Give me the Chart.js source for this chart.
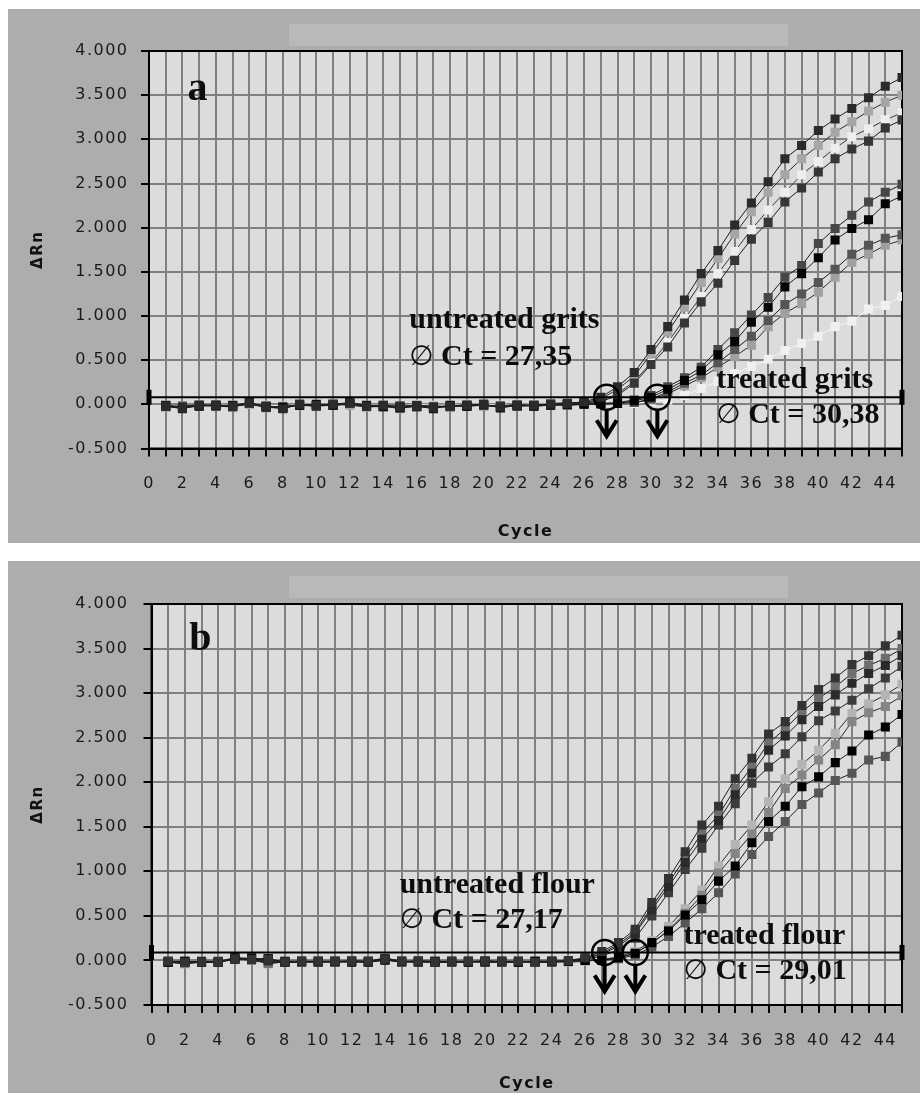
<!DOCTYPE html>
<html>
<head>
<meta charset="utf-8">
<title>Real-time PCR amplification plots</title>
<script src="https://cdn.jsdelivr.net/npm/chart.js@4/dist/chart.umd.min.js"></script>
<style>
  html, body { margin: 0; padding: 0; background: #ffffff; }
  body { width: 920px; height: 1093px; position: relative; overflow: hidden; }
  canvas { position: absolute; left: 8px; }
  #panelA { top: 9px; }
  #panelB { top: 561px; }
</style>
</head>
<body>
<canvas id="panelA" width="912" height="534"></canvas>
<canvas id="panelB" width="912" height="532"></canvas>
<script>
// PCR cycles 1..45
const cycles = [1,2,3,4,5,6,7,8,9,10,11,12,13,14,15,16,17,18,19,20,21,22,23,24,25,26,27,28,29,30,31,32,33,34,35,36,37,38,39,40,41,42,43,44,45];

// Y axis ticks (ΔRn) and cycle axis range
const yTicks = [-0.5, 0, 0.5, 1, 1.5, 2, 2.5, 3, 3.5, 4];
const cycleMin = 0;
const cycleMax = 45;

// ---- Panel a: grits ----
const thresholdGrits = 0.08;
const ctUntreatedGrits = 27.35;
const ctTreatedGrits = 30.38;

const untreatedGrits1 = [-0.02,-0.04,-0.01,-0.01,-0.02,0.02,-0.03,-0.05,0.00,-0.01,0.00,0.02,-0.02,-0.01,-0.03,-0.02,-0.04,-0.02,-0.01,0.00,-0.03,-0.01,-0.01,0.00,0.01,0.03,
  0.08,0.20,0.36,0.62,0.88,1.18,1.48,1.74,2.03,2.28,2.52,2.78,2.93,3.10,3.23,3.35,3.47,3.60,3.70];
const untreatedGrits2 = [-0.03,-0.02,-0.02,0.00,-0.03,0.01,-0.04,-0.02,-0.01,-0.02,0.01,-0.01,-0.03,-0.02,-0.05,-0.01,-0.03,-0.02,0.00,-0.02,-0.02,0.00,-0.02,0.01,0.02,0.02,
  0.06,0.17,0.32,0.57,0.82,1.10,1.38,1.65,1.93,2.18,2.40,2.60,2.78,2.93,3.08,3.20,3.32,3.42,3.50];
const untreatedGrits3 = [-0.01,-0.03,0.00,-0.02,-0.01,0.00,-0.02,-0.03,0.00,-0.01,-0.01,0.00,-0.02,-0.02,-0.03,-0.01,-0.02,-0.03,0.00,-0.01,-0.02,0.00,-0.01,0.00,0.01,0.02,
  0.04,0.12,0.26,0.47,0.70,0.97,1.22,1.48,1.73,1.98,2.20,2.40,2.60,2.75,2.90,3.03,3.12,3.22,3.30];
const untreatedGrits4 = [-0.02,-0.05,-0.01,-0.02,-0.02,0.01,-0.03,-0.04,-0.01,-0.02,-0.01,0.01,-0.02,-0.03,-0.02,-0.03,-0.03,-0.02,-0.02,-0.01,-0.03,-0.02,-0.01,0.00,0.00,0.02,
  0.03,0.10,0.24,0.45,0.65,0.92,1.16,1.37,1.63,1.87,2.06,2.29,2.45,2.63,2.78,2.89,2.98,3.13,3.22];

const treatedGrits1 = [-0.02,-0.03,-0.01,-0.01,-0.02,0.01,-0.02,-0.04,0.00,-0.01,-0.01,0.01,-0.02,-0.02,-0.03,-0.02,-0.03,-0.02,-0.01,-0.01,-0.02,-0.02,-0.01,0.00,0.00,0.01,0.01,0.02,
  0.05,0.10,0.20,0.30,0.42,0.62,0.81,1.01,1.21,1.44,1.57,1.82,1.99,2.14,2.29,2.40,2.49];
const treatedGrits2 = [-0.01,-0.04,-0.02,-0.01,-0.01,0.02,-0.03,-0.03,-0.01,0.00,-0.01,0.02,-0.01,-0.02,-0.04,-0.02,-0.05,-0.01,-0.02,0.00,-0.04,-0.01,-0.02,-0.01,0.00,0.00,0.01,0.01,
  0.04,0.08,0.17,0.27,0.38,0.56,0.71,0.93,1.10,1.33,1.48,1.66,1.86,1.99,2.09,2.27,2.36];
const treatedGrits3 = [-0.02,-0.02,-0.01,-0.02,-0.03,0.01,-0.02,-0.04,0.00,-0.02,0.00,0.01,-0.02,-0.01,-0.02,-0.01,-0.03,-0.03,-0.01,-0.01,-0.02,-0.01,-0.02,-0.01,-0.01,0.00,0.00,0.01,
  0.02,0.06,0.14,0.24,0.33,0.47,0.62,0.77,0.95,1.13,1.25,1.38,1.53,1.70,1.80,1.88,1.92];
const treatedGrits4 = [-0.03,-0.03,-0.02,-0.01,-0.02,0.00,-0.03,-0.03,-0.01,-0.01,-0.01,0.00,-0.03,-0.02,-0.04,-0.02,-0.02,-0.02,-0.02,-0.01,-0.03,-0.02,-0.01,0.00,-0.01,0.00,0.00,0.01,
  0.02,0.05,0.12,0.21,0.30,0.42,0.54,0.67,0.88,1.03,1.14,1.27,1.44,1.61,1.70,1.80,1.86];
const treatedGrits5 = [-0.01,-0.02,-0.01,0.00,-0.01,0.00,-0.01,-0.02,0.00,0.00,-0.01,0.00,-0.01,-0.01,-0.02,0.00,-0.01,-0.01,0.00,0.00,-0.01,0.00,0.00,0.00,0.00,0.00,0.00,0.01,
  0.01,0.03,0.05,0.10,0.18,0.26,0.35,0.43,0.51,0.61,0.69,0.77,0.88,0.94,1.08,1.12,1.22];

// ---- Panel b: flour ----
const thresholdFlour = 0.09;
const ctUntreatedFlour = 27.17;
const ctTreatedFlour = 29.01;

const untreatedFlour1 = [-0.01,-0.02,-0.02,-0.02,0.02,0.01,0.01,-0.02,-0.01,-0.01,-0.01,-0.01,-0.01,0.02,-0.01,-0.01,-0.02,-0.01,-0.01,-0.01,-0.01,-0.01,-0.02,-0.01,0.00,0.03,
  0.10,0.20,0.35,0.65,0.92,1.22,1.52,1.73,2.04,2.27,2.54,2.68,2.86,3.04,3.17,3.32,3.42,3.53,3.65];
const untreatedFlour2 = [-0.02,-0.03,-0.02,-0.01,0.03,0.02,-0.03,-0.01,-0.02,-0.01,-0.02,0.00,-0.01,0.01,-0.02,0.00,-0.01,-0.02,-0.02,0.00,-0.02,-0.01,-0.01,-0.02,0.00,0.02,
  0.08,0.18,0.32,0.60,0.87,1.15,1.43,1.63,1.93,2.17,2.44,2.60,2.79,2.94,3.07,3.22,3.31,3.39,3.50];
const untreatedFlour3 = [-0.01,-0.01,-0.02,-0.02,0.01,0.03,0.00,-0.01,-0.01,-0.02,-0.01,-0.01,-0.02,0.00,-0.01,-0.02,-0.01,-0.01,-0.01,-0.02,-0.01,-0.02,-0.01,-0.01,-0.01,0.02,
  0.07,0.16,0.30,0.57,0.83,1.10,1.36,1.57,1.86,2.10,2.36,2.52,2.70,2.85,2.98,3.11,3.22,3.31,3.42];
const untreatedFlour4 = [-0.02,-0.02,-0.01,-0.02,0.02,0.01,0.02,-0.02,-0.02,-0.01,-0.02,-0.01,-0.02,0.01,-0.02,-0.01,-0.02,-0.02,-0.01,-0.01,-0.02,-0.01,-0.02,-0.02,-0.01,0.01,
  0.05,0.12,0.25,0.50,0.76,1.02,1.26,1.52,1.76,1.99,2.17,2.32,2.51,2.69,2.80,2.92,3.05,3.17,3.30];

const treatedFlour1 = [-0.02,-0.04,-0.02,-0.01,0.01,0.02,-0.04,-0.01,-0.01,-0.02,-0.01,-0.02,-0.01,0.03,-0.01,-0.02,-0.01,-0.01,-0.02,-0.01,-0.02,-0.02,-0.01,-0.01,-0.02,-0.01,0.01,
  0.04,0.10,0.22,0.38,0.58,0.79,1.06,1.30,1.52,1.78,2.04,2.20,2.36,2.55,2.77,2.88,2.98,3.10];
const treatedFlour2 = [-0.01,-0.02,-0.02,-0.02,0.02,0.00,-0.03,-0.02,-0.02,-0.01,-0.02,-0.01,-0.02,0.01,-0.02,-0.01,-0.02,-0.02,-0.01,-0.02,-0.01,-0.01,-0.02,-0.02,-0.01,0.00,0.01,
  0.03,0.08,0.19,0.34,0.53,0.73,0.98,1.20,1.42,1.66,1.93,2.08,2.25,2.42,2.68,2.78,2.85,2.97];
const treatedFlour3 = [-0.02,-0.01,-0.02,-0.02,0.03,0.02,0.02,-0.02,-0.01,-0.01,-0.01,-0.02,-0.01,0.02,-0.01,-0.01,-0.02,-0.01,-0.02,-0.01,-0.01,-0.02,-0.01,-0.01,-0.01,0.00,0.00,
  0.03,0.08,0.20,0.33,0.51,0.68,0.89,1.06,1.32,1.56,1.73,1.95,2.06,2.22,2.35,2.53,2.62,2.76];
const treatedFlour4 = [-0.02,-0.02,-0.01,-0.01,0.01,0.02,-0.01,-0.02,-0.01,-0.02,-0.01,-0.01,-0.02,0.02,-0.01,-0.02,-0.01,-0.02,-0.01,-0.02,-0.02,-0.01,-0.02,-0.01,-0.01,0.00,0.00,
  0.02,0.06,0.15,0.27,0.42,0.58,0.76,0.97,1.19,1.39,1.56,1.75,1.88,2.02,2.10,2.25,2.29,2.45];

// ---------------------------------------------------------------
const TICK_FONT = { family: "'DejaVu Sans', sans-serif", size: 16 };
const TITLE_FONT = { family: "'DejaVu Sans', sans-serif", size: 16, weight: 'bold' };
const SPACING = '1.5px';

function fmtCt(v) { return v.toFixed(2).replace('.', ','); }

function amplification(label, values, fill, line) {
  return {
    label,
    data: values.map((v, i) => ({ x: cycles[i], y: v })),
    borderColor: line,
    borderWidth: 1,
    backgroundColor: fill,
    pointBackgroundColor: fill,
    pointBorderWidth: 0,
    pointStyle: 'rect',
    pointRadius: 6.4,
    pointHoverRadius: 6.4,
    tension: 0
  };
}

function thresholdLine(value) {
  return {
    label: 'threshold',
    data: [{ x: cycleMin, y: value }, { x: cycleMax, y: value }],
    borderColor: '#000000',
    borderWidth: 2,
    pointStyle: 'line',
    pointRotation: 90,
    pointRadius: 7.5,
    pointBorderWidth: 5,
    pointBorderColor: '#000000',
    pointHoverRadius: 7.5,
    clip: false
  };
}

// Panel background, frame, Ct circles with arrows and the text labels
const panelDecor = {
  id: 'panelDecor',
  beforeLayout(chart) { chart.ctx.letterSpacing = SPACING; },
  beforeDraw(chart) {
    const { ctx, chartArea: a } = chart;
    ctx.save();
    ctx.fillStyle = '#adadad';
    ctx.fillRect(0, 0, chart.width, chart.height);
    ctx.fillStyle = '#b9b9b9';
    ctx.fillRect(281, 15, 499, 22);
    ctx.fillStyle = '#dcdcdc';
    ctx.fillRect(a.left, a.top, a.right - a.left, a.bottom - a.top);
    ctx.restore();
    ctx.letterSpacing = SPACING;
  },
  beforeDatasetsDraw(chart) {
    const { ctx, chartArea: a } = chart;
    ctx.save();
    ctx.strokeStyle = '#000000';
    ctx.lineWidth = 2;
    ctx.strokeRect(a.left, a.top, a.right - a.left, a.bottom - a.top);
    ctx.restore();
  },
  afterDatasetsDraw(chart, args, opts) {
    const { ctx } = chart;
    const xs = chart.scales.x, ys = chart.scales.y;
    ctx.save();
    ctx.letterSpacing = '0px';
    ctx.strokeStyle = '#000000';
    ctx.fillStyle = '#0d0d0d';

    // Ct markers on the threshold line
    const cy = ys.getPixelForValue(opts.threshold);
    opts.groups.forEach(g => {
      const cx = xs.getPixelForValue(g.ct);
      ctx.lineWidth = 2.5;
      ctx.beginPath();
      ctx.arc(cx, cy, 12.5, 0, Math.PI * 2);
      ctx.stroke();
      const tip = cy + 39;
      ctx.lineWidth = 4;
      ctx.beginPath();
      ctx.moveTo(cx, cy + 13);
      ctx.lineTo(cx, tip);
      ctx.moveTo(cx - 10, tip - 16);
      ctx.lineTo(cx, tip);
      ctx.lineTo(cx + 10, tip - 16);
      ctx.stroke();
    });

    // group captions
    ctx.textBaseline = 'alphabetic';
    ctx.textAlign = 'left';
    opts.groups.forEach(g => {
      const x = xs.getPixelForValue(g.textAt[0]);
      ctx.font = 'bold 30px "Liberation Serif", serif';
      ctx.fillText(g.name, x, ys.getPixelForValue(g.textAt[1]));
      const y2 = ys.getPixelForValue(g.textAt[2]);
      ctx.font = '28px "DejaVu Sans", sans-serif';
      ctx.fillText('\u2205', x, y2);
      const w = ctx.measureText('\u2205').width;
      ctx.font = 'bold 30px "Liberation Serif", serif';
      ctx.fillText(' Ct = ' + fmtCt(g.ct), x + w, y2);
    });

    // panel letter
    ctx.font = 'bold 40px "Liberation Serif", serif';
    ctx.fillText(opts.letter, xs.getPixelForValue(opts.letterAt[0]), ys.getPixelForValue(opts.letterAt[1]));
    ctx.restore();
  }
};

function buildPanel(cfg) {
  return new Chart(document.getElementById(cfg.canvas), {
    type: 'line',
    data: { datasets: cfg.datasets },
    plugins: [panelDecor],
    options: {
      responsive: false,
      animation: false,
      events: [],
      layout: { padding: cfg.padding },
      plugins: {
        legend: { display: false },
        tooltip: { enabled: false },
        panelDecor: cfg.decor
      },
      scales: {
        x: {
          type: 'linear',
          min: cycleMin,
          max: cycleMax,
          ticks: {
            stepSize: 1,
            autoSkip: false,
            maxRotation: 0,
            padding: cfg.xTickPad,
            color: '#1a1a1a',
            font: TICK_FONT,
            callback: v => (v % 2 === 0 && v < cycleMax) ? String(v) : ''
          },
          grid: { color: '#808080', lineWidth: 2, tickLength: 8, tickColor: '#000000', tickWidth: 2 },
          border: { display: true, color: '#000000', width: 2 },
          title: { display: true, text: 'Cycle', color: '#111111', font: TITLE_FONT, padding: { top: 0, bottom: cfg.xTitlePad } },
          afterFit: s => { s.height = cfg.xHeight; }
        },
        y: {
          min: yTicks[0],
          max: yTicks[yTicks.length - 1],
          afterBuildTicks: s => { s.ticks = yTicks.map(v => ({ value: v })); },
          ticks: {
            padding: cfg.yTickPad,
            color: '#1a1a1a',
            font: TICK_FONT,
            callback: v => Number(v).toFixed(3)
          },
          grid: { color: '#808080', lineWidth: 2, tickLength: 8, tickColor: '#000000', tickWidth: 2 },
          border: { display: true, color: '#000000', width: 2 },
          title: { display: true, text: 'ΔRn', color: '#111111', font: { family: "'DejaVu Sans', sans-serif", size: 15, weight: 'bold' }, padding: { top: 21, bottom: 0 } },
          afterFit: s => { s.width = cfg.yWidth; }
        }
      }
    }
  });
}

buildPanel({
  canvas: 'panelA',
  padding: { top: 42, right: 10, bottom: 0, left: 0 },
  yWidth: 141, xHeight: 94.5, yTickPad: 12.5, xTickPad: 18, xTitlePad: 2,
  datasets: [
    thresholdLine(thresholdGrits),
    amplification('untreated grits 1', untreatedGrits1, '#2b2b2b', '#1e1e1e'),
    amplification('treated grits 2', treatedGrits2, '#050505', '#1e1e1e'),
    amplification('untreated grits 4', untreatedGrits4, '#363636', '#1e1e1e'),
    amplification('treated grits 1', treatedGrits1, '#474747', '#1e1e1e'),
    amplification('treated grits 3', treatedGrits3, '#555555', '#1e1e1e'),
    amplification('untreated grits 2', untreatedGrits2, '#a6a6a6', '#2a2a2a'),
    amplification('treated grits 4', treatedGrits4, '#a0a0a0', '#2a2a2a'),
    amplification('untreated grits 3', untreatedGrits3, '#eeeeee', '#3a3a3a'),
    amplification('treated grits 5', treatedGrits5, '#f0f0f0', '#f4f4f4')
  ],
  decor: {
    letter: 'a', letterAt: [2.3, 3.45],
    threshold: thresholdGrits,
    groups: [
      { name: 'untreated grits', ct: ctUntreatedGrits, textAt: [15.55, 0.86, 0.44] },
      { name: 'treated grits', ct: ctTreatedGrits, textAt: [33.9, 0.18, -0.21] }
    ]
  }
});

buildPanel({
  canvas: 'panelB',
  padding: { top: 43, right: 5, bottom: 0, left: 0 },
  yWidth: 143.5, xHeight: 88, yTickPad: 15, xTickPad: 18, xTitlePad: 0,
  datasets: [
    thresholdLine(thresholdFlour),
    amplification('untreated flour 1', untreatedFlour1, '#333333', '#1e1e1e'),
    amplification('treated flour 3', treatedFlour3, '#000000', '#1e1e1e'),
    amplification('untreated flour 3', untreatedFlour3, '#2a2a2a', '#1e1e1e'),
    amplification('untreated flour 4', untreatedFlour4, '#3c3c3c', '#1e1e1e'),
    amplification('treated flour 4', treatedFlour4, '#555555', '#1e1e1e'),
    amplification('untreated flour 2', untreatedFlour2, '#6e6e6e', '#1e1e1e'),
    amplification('treated flour 2', treatedFlour2, '#858585', '#2a2a2a'),
    amplification('treated flour 1', treatedFlour1, '#b4b4b4', '#2a2a2a')
  ],
  decor: {
    letter: 'b', letterAt: [2.27, 3.48],
    threshold: thresholdFlour,
    groups: [
      { name: 'untreated flour', ct: ctUntreatedFlour, textAt: [14.88, 0.757, 0.366] },
      { name: 'treated flour', ct: ctTreatedFlour, textAt: [31.9, 0.19, -0.21] }
    ]
  }
});
</script>
</body>
</html>
